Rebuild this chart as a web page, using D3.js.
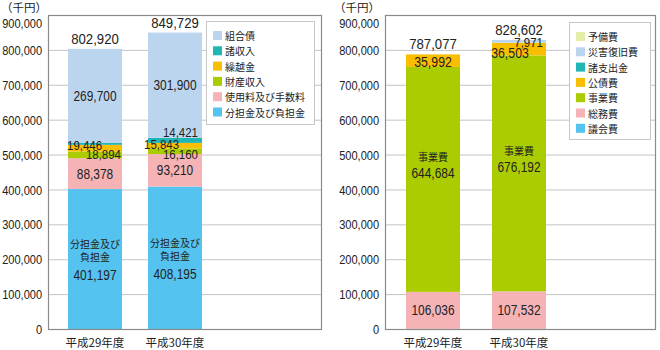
<!DOCTYPE html>
<html><head><meta charset="utf-8">
<script src="https://cdn.jsdelivr.net/npm/d3@7/dist/d3.min.js"></script>
<style>
body{margin:0;background:#fff;}
svg{display:block;}
.num{font-family:"Liberation Sans",Arial,sans-serif;fill:#222;}
.jp{font-family:"Noto Sans CJK JP",sans-serif;fill:#222;}
</style></head>
<body>
<svg id="c" width="660" height="350"></svg>
<script>
// ---------- DATA ----------
const years = ["平成29年度", "平成30年度"];
const yTicks = [0, 100000, 200000, 300000, 400000, 500000, 600000, 700000, 800000, 900000];

// Revenue (left chart), stacked bottom-up
const revCats = ["分担金及び負担金", "使用料及び手数料", "財産収入", "繰越金", "諸収入", "組合債"];
const rev_futankin = [401197, 408195];
const rev_shiyoryo = [88378, 93210];
const rev_zaisan   = [18894, 16160];
const rev_kurikoshi= [19446, 15843];
const rev_shoshu   = [5305, 14421];
const rev_kumiaisai= [269700, 301900];
const revTotals    = [802920, 849729];

// Expenditure (right chart), stacked bottom-up
const expCats = ["議会費", "総務費", "事業費", "公債費", "諸支出金", "災害復旧費", "予備費"];
const exp_gikai   = [365, 404];
const exp_somu    = [106036, 107532];
const exp_jigyo   = [644684, 676192];
const exp_kosai   = [35992, 36503];
const exp_shoshi  = [0, 0];
const exp_saigai  = [0, 7971];
const exp_yobi    = [0, 0];
const expTotals   = [787077, 828602];

// ---------- STYLE ----------
const revColors = ["#55c3f0", "#f5b3b5", "#aacc00", "#f9be00", "#22b5b5", "#bcd5ef"];
const expColors = ["#55c3f0", "#f5b3b5", "#aacc00", "#f9be00", "#22b5b5", "#bcd5ef", "#e6eda8"];
const NARROW = 0.85;

const svg = d3.select("#c");
const fmt = d3.format(",");
const y = d3.scaleLinear().domain([0, 900000]).range([329, 15]);

function num(parent, x, yy, txt, size, anchor) {
  return parent.append("text").attr("class", "num")
    .attr("transform", `translate(${x},${yy}) scale(${NARROW},1)`)
    .attr("text-anchor", anchor || "middle").style("font-size", size + "px").text(txt);
}

function buildRows(cats, series) {
  return years.map((yr, i) => {
    const r = {year: yr};
    cats.forEach((c, k) => r[c] = series[k][i]);
    return r;
  });
}

function drawChart(opt) {
  const g = svg.append("g");
  const x = d3.scaleBand().domain(years).range(opt.bandRange)
    .paddingInner(opt.pi).paddingOuter(opt.pi / 2);
  // gridlines
  g.append("g").selectAll("line").data(yTicks).join("line")
    .attr("x1", opt.x0).attr("x2", opt.x1)
    .attr("y1", d => y(d) + 0.5).attr("y2", d => y(d) + 0.5)
    .attr("stroke", "#c4c4c4").attr("stroke-width", 1);
  // bars
  const rows = buildRows(opt.cats, opt.series);
  const stack = d3.stack().keys(opt.cats)(rows);
  g.append("g").selectAll("g").data(stack).join("g")
    .attr("fill", (d, i) => opt.colors[i])
    .selectAll("rect").data(d => d).join("rect")
    .attr("x", d => x(d.data.year))
    .attr("width", x.bandwidth())
    .attr("y", d => y(d[1]))
    .attr("height", d => Math.max(0, y(d[0]) - y(d[1])));
  // frame
  g.append("rect").attr("x", opt.x0 + 0.5).attr("y", y(900000) + 0.5)
    .attr("width", opt.x1 - opt.x0).attr("height", y(0) - y(900000))
    .attr("fill", "none").attr("stroke", "#8a8a8a").attr("stroke-width", 1.2);
  // axis
  const ax = g.append("g").attr("transform", `translate(${opt.x0},0)`)
    .call(d3.axisLeft(y).tickValues(yTicks).tickFormat(fmt).tickSize(0).tickPadding(7));
  ax.select(".domain").remove();
  ax.selectAll("text").attr("class", "num").style("font-size", "13px").attr("fill", "#222")
    .attr("transform", `scale(${NARROW},1)`)
    .attr("dy", d => d === 900000 ? "1.0em" : "0.35em");
  // unit
  g.append("text").attr("class", "jp").attr("x", opt.unitX).attr("y", 12)
    .style("font-size", "11.5px").text("（千円）");
  // year labels
  g.append("g").selectAll("text").data(years).join("text")
    .attr("class", "jp").attr("x", d => x(d) + x.bandwidth() / 2).attr("y", 347)
    .attr("text-anchor", "middle").style("font-size", "11.5px").text(d => d);
  // totals
  opt.totals.forEach((d, i) => num(g, x(years[i]) + x.bandwidth() / 2, y(d) - 5, fmt(d), 15.5));
  // legend
  const lg = g.append("g");
  lg.append("rect").attr("x", opt.lg.x + 0.5).attr("y", opt.lg.y + 0.5)
    .attr("width", opt.lg.w).attr("height", opt.lg.h)
    .attr("fill", "#fff").attr("stroke", "#c8c8c8");
  const items = opt.cats.map((c, i) => ({c, col: opt.colors[i]})).reverse();
  const it = lg.selectAll("g.it").data(items).join("g").attr("class", "it")
    .attr("transform", (d, i) => `translate(${opt.lg.x + 7},${opt.lg.y + 15 + i * 15.3})`);
  it.append("rect").attr("x", 0).attr("y", -5).attr("width", 9).attr("height", 9).attr("fill", d => d.col);
  it.append("text").attr("class", "jp").attr("x", 12).attr("y", 4)
    .style("font-size", "10px").text(d => d.c);
  return {g, x, stack};
}

function segMid(stack, k, i) { const d = stack[k][i]; return y((d[0] + d[1]) / 2); }

// ---------- LEFT ----------
const L = drawChart({
  cats: revCats,
  series: [rev_futankin, rev_shiyoryo, rev_zaisan, rev_kurikoshi, rev_shoshu, rev_kumiaisai],
  colors: revColors, totals: revTotals,
  x0: 48, x1: 321, bandRange: [55, 215], pi: 0.325, unitX: 1,
  lg: {x: 206, y: 21, w: 108, h: 103}
});
(function(){
  const {g, x, stack} = L;
  const cx = i => x(years[i]) + x.bandwidth() / 2;
  const xl = i => x(years[i]);
  const xr = i => x(years[i]) + x.bandwidth();
  const t = g.append("g");
  years.forEach((yr, i) => {
    num(t, cx(i), segMid(stack, 5, i) + 5, fmt(rev_kumiaisai[i]), 14);
    num(t, cx(i), segMid(stack, 1, i) + 5, fmt(rev_shiyoryo[i]), 14);
    const m = segMid(stack, 0, i);
    t.append("text").attr("class", "jp").attr("x", cx(i)).attr("y", m - 11)
      .attr("text-anchor", "middle").style("font-size", "10px").text("分担金及び");
    t.append("text").attr("class", "jp").attr("x", cx(i)).attr("y", m + 2)
      .attr("text-anchor", "middle").style("font-size", "10px").text("負担金");
    num(t, cx(i), m + 21, fmt(rev_futankin[i]), 14);
  });
  // small labels
  num(t, xl(0) - 1, y(stack[3][0][1]) + 5, fmt(rev_kurikoshi[0]), 13.5, "start");
  num(t, xr(0) - 1, y(stack[2][0][0]) + 1, fmt(rev_zaisan[0]), 13.5, "end");
  num(t, xr(1) - 4, y(stack[4][1][1]) - 1, fmt(rev_shoshu[1]), 13.5, "end");
  num(t, xl(1) - 4, y(stack[3][1][1]) + 6, fmt(rev_kurikoshi[1]), 13.5, "start");
  num(t, xr(1) - 4, y(stack[2][1][0]) + 5, fmt(rev_zaisan[1]), 13.5, "end");
})();

// ---------- RIGHT ----------
const R = drawChart({
  cats: expCats,
  series: [exp_gikai, exp_somu, exp_jigyo, exp_kosai, exp_shoshi, exp_saigai, exp_yobi],
  colors: expColors, totals: expTotals,
  x0: 385, x1: 655, bandRange: [390, 562], pi: 0.372, unitX: 334,
  lg: {x: 569, y: 22, w: 81, h: 117}
});
(function(){
  const {g, x, stack} = R;
  const cx = i => x(years[i]) + x.bandwidth() / 2;
  const xr = i => x(years[i]) + x.bandwidth();
  const t = g.append("g");
  years.forEach((yr, i) => {
    num(t, cx(i), segMid(stack, 1, i) + 5, fmt(exp_somu[i]), 14);
    const m = segMid(stack, 2, i) - 14;
    t.append("text").attr("class", "jp").attr("x", cx(i)).attr("y", m - 4)
      .attr("text-anchor", "middle").style("font-size", "10px").text("事業費");
    num(t, cx(i), m + 13, fmt(exp_jigyo[i]), 14);
  });
  num(t, cx(0), segMid(stack, 3, 0) + 6, fmt(exp_kosai[0]), 14.5);
  num(t, cx(1) - 9, segMid(stack, 3, 1) + 9, fmt(exp_kosai[1]), 14.5);
  num(t, xr(1) - 3, y(stack[5][1][1]) + 7, fmt(exp_saigai[1]), 13.5, "end");
})();
</script>
</body></html>
